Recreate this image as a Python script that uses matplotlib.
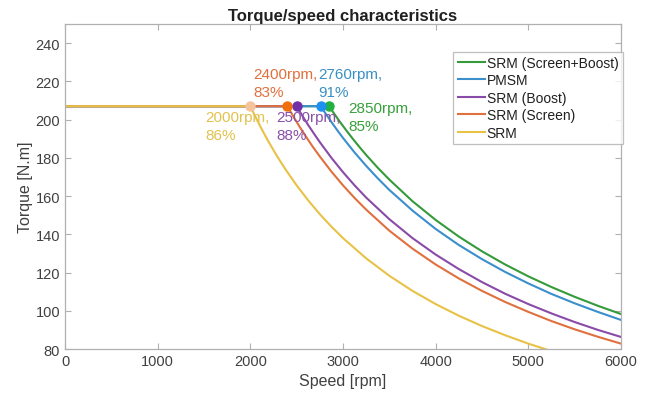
import matplotlib
matplotlib.use("Agg")
import matplotlib.pyplot as plt

plt.rcParams['font.family'] = ['Liberation Sans', 'DejaVu Sans']

# Series (legend order)
labels = ["SRM (Screen+Boost)", "PMSM", "SRM (Boost)", "SRM (Screen)", "SRM"]

speed_sb = [0, 2850, 2910, 2970, 3030, 3100, 3175, 3250, 3375, 3500, 3750, 4000, 4250, 4500, 4750, 5000, 5250, 5500, 5750, 6000]
torque_sb = [207, 207, 202.7, 198.6, 194.7, 190.3, 185.8, 181.5, 174.8, 168.6, 157.3, 147.5, 138.8, 131.1, 124.2, 118.0, 112.4, 107.3, 102.6, 98.3]

speed_pm = [0, 2760, 2820, 2880, 2940, 3000, 3125, 3250, 3375, 3500, 3750, 4000, 4250, 4500, 4750, 5000, 5250, 5500, 5750, 6000]
torque_pm = [207, 207, 202.6, 198.4, 194.3, 190.4, 182.8, 175.8, 169.3, 163.2, 152.4, 142.8, 134.4, 127.0, 120.3, 114.3, 108.8, 103.9, 99.4, 95.2]

speed_b = [0, 2500, 2560, 2625, 2690, 2750, 2875, 3000, 3125, 3250, 3500, 3750, 4000, 4250, 4500, 4750, 5000, 5250, 5500, 5750, 6000]
torque_b = [207, 207, 202.1, 197.1, 192.4, 188.2, 180.0, 172.5, 165.6, 159.2, 147.9, 138.0, 129.4, 121.8, 115.0, 108.9, 103.5, 98.6, 94.1, 90.0, 86.3]

speed_s = [0, 2400, 2460, 2530, 2600, 2675, 2750, 2875, 3000, 3125, 3250, 3500, 3750, 4000, 4250, 4500, 4750, 5000, 5250, 5500, 5750, 6000]
torque_s = [207, 207, 202.0, 196.4, 191.1, 185.7, 180.7, 172.8, 165.6, 159.0, 152.9, 141.9, 132.5, 124.2, 116.9, 110.4, 104.6, 99.4, 94.6, 90.3, 86.4, 82.8]

speed_srm = [0, 2000, 2060, 2125, 2190, 2250, 2310, 2375, 2440, 2500, 2625, 2750, 2875, 3000, 3250, 3500, 3750, 4000, 4250, 4500, 4750, 5000, 5250, 5500]
torque_srm = [207, 207, 201.0, 194.8, 189.0, 184.0, 179.2, 174.3, 169.7, 165.6, 157.7, 150.5, 144.0, 138.0, 127.4, 118.3, 110.4, 103.5, 97.4, 92.0, 87.2, 82.8, 78.9, 75.3]

# Base-speed points and annotations
base_speed = [2850, 2760, 2500, 2400, 2000]
base_torque = [207, 207, 207, 207, 207]
ann_text = ["2850rpm,\n85%", "2760rpm,\n91%", "2500rpm,\n88%", "2400rpm,\n83%", "2000rpm,\n86%"]
ann_x = [3060, 2730, 2285, 2030, 1510]
ann_y = [209.5, 227.5, 205, 227.5, 205]

line_colors = ["#349a3a", "#3a8fcc", "#8a4aa8", "#e0703e", "#e8c246"]
marker_colors = ["#22b040", "#1e90f0", "#7030a8", "#f07010", "#f5c49a"]
text_colors = ["#38a03a", "#3a90c4", "#8a50a8", "#e0703e", "#e2c24e"]

speeds = [speed_sb, speed_pm, speed_b, speed_s, speed_srm]
torques = [torque_sb, torque_pm, torque_b, torque_s, torque_srm]

fig = plt.figure(figsize=(6.51, 4.02), dpi=100)
ax = fig.add_axes([65/651, 1-350/402, (621-65)/651, (350-25)/402])

for sp, tq, lab, c in zip(speeds, torques, labels, line_colors):
    ax.plot(sp, tq, color=c, lw=1.5, label=lab, solid_joinstyle='round')

for bs, bt, mc in zip(base_speed, base_torque, marker_colors):
    ax.plot([bs], [bt], 'o', color=mc, markersize=6.5, zorder=5)

for t, x, y, c in zip(ann_text, ann_x, ann_y, text_colors):
    ax.text(x, y, t, color=c, fontsize=11, va='top', ha='left', linespacing=1.35)

ax.set_xlim(0, 6000)
ax.set_ylim(80, 250)
ax.set_xticks(range(0, 6001, 1000))
ax.set_yticks(range(80, 241, 20))
gray = "#b0b0b0"
for s in ax.spines.values():
    s.set_color(gray)
    s.set_linewidth(0.9)
ax.tick_params(direction='in', length=4, color=gray, labelcolor="#404040",
               labelsize=10.5, top=True, right=True)
ax.set_title("Torque/speed characteristics", fontsize=12, fontweight='bold', pad=3, color="#202020")
ax.set_xlabel("Speed [rpm]", fontsize=11.5, color="#404040", labelpad=4)
ax.set_ylabel("Torque [N.m]", fontsize=11.5, color="#404040", labelpad=2)

leg = ax.legend(loc='upper right', bbox_to_anchor=(1.003, 0.915), fontsize=10,
                frameon=True, fancybox=False, handlelength=2.0, handletextpad=0.1,
                labelspacing=0.25, borderpad=0.3, borderaxespad=0)
leg.get_frame().set_edgecolor(gray)
leg.get_frame().set_linewidth(0.9)
for txt in leg.get_texts():
    txt.set_color("#202020")

fig.savefig("out.png", dpi=100)
